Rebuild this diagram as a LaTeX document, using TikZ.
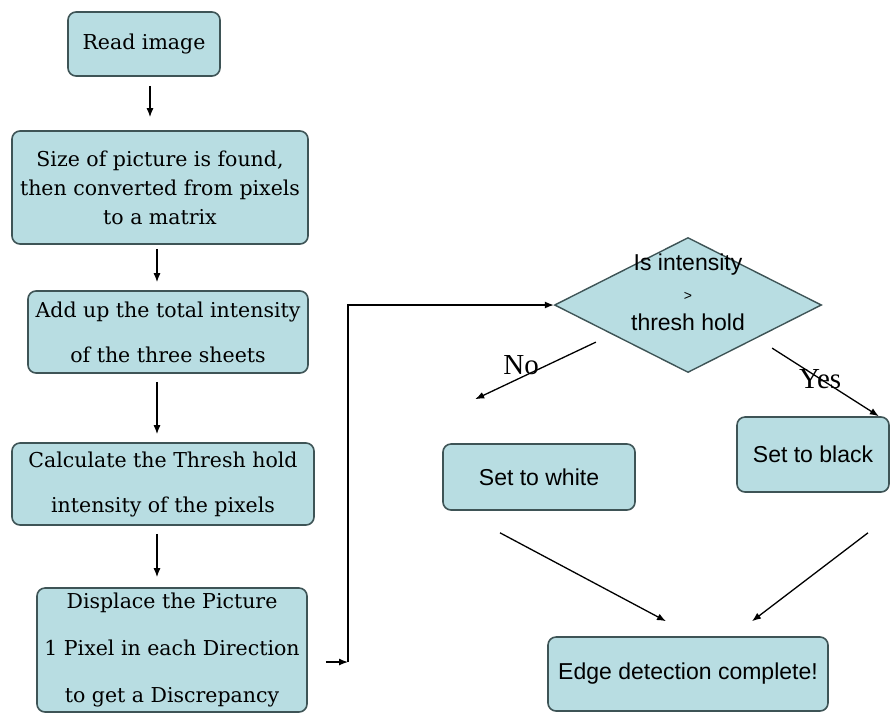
\documentclass[tikz,border=0pt]{standalone}
\usepackage{fontspec}
\setmainfont{DejaVu Serif}
\newfontfamily\arialfont{Liberation Sans}
\newfontfamily\timesfont{Liberation Serif}
\usetikzlibrary{arrows.meta,calc,shapes.geometric}
\definecolor{boxfill}{RGB}{184,221,226}
\definecolor{boxline}{RGB}{62,84,86}

\begin{document}
\begin{tikzpicture}[x=1pt,y=-1pt,
  unit/.style={draw=boxline,fill=boxfill,line width=1.6pt,rounded corners=8pt,align=center,inner sep=0pt,font=\fontsize{20.5}{45}\selectfont},
  sunit/.style={unit,font=\arialfont\fontsize{23}{30}\selectfont},
  test/.style={draw=boxline,fill=boxfill,line width=1.4pt,diamond,inner sep=0pt,minimum width=267pt,minimum height=135pt},
  link/.style={-{Latex[length=9pt,width=7pt]},line width=1.3pt},
  answer/.style={font=\timesfont\fontsize{29}{29}\selectfont,inner sep=0pt}]
\useasboundingbox (0,0) rectangle (890,713);
% left column
\node[unit,minimum width=152pt,minimum height=64pt] (R) at (144,44) {Read image};
\node[unit,minimum width=296pt,minimum height=113pt,font=\fontsize{20.5}{29}\selectfont] (S) at (160,187.5)
  {Size of picture is found,\\ then converted from pixels\\ to a matrix};
\node[unit,minimum width=280pt,minimum height=82pt] (A) at (168,332) {Add up the total intensity\\ of the three sheets};
\node[unit,minimum width=302pt,minimum height=82pt] (T) at (163,484) {Calculate the Thresh hold\\ intensity of the pixels};
\node[unit,minimum width=270pt,minimum height=124pt,font=\fontsize{20.5}{47}\selectfont] (D) at (172,650)
  {Displace the Picture\\ 1 Pixel in each Direction\\ to get a Discrepancy};
\draw[link] ([xshift=6pt,yshift=-9pt]R.south) -- ([xshift=-10pt,yshift=13pt]S.north);
\draw[link] ([xshift=-3pt,yshift=-4pt]S.south) -- ([xshift=-11pt,yshift=8pt]A.north);
\draw[link] ([xshift=-11pt,yshift=-8pt]A.south) -- ([xshift=-6pt,yshift=8pt]T.north);
\draw[link] ([xshift=-6pt,yshift=-8pt]T.south) -- ([xshift=-15pt,yshift=10pt]D.north);
% right part
\node[test,label={[sunit,draw=none,fill=none,yshift=13pt]center:Is intensity\\ {\fontsize{14}{30}\selectfont >}\\ thresh hold}] (Q) at (688,305) {};
\node[sunit,minimum width=192pt,minimum height=66pt] (W) at (539,477) {Set to white};
\node[sunit,minimum width=152pt,minimum height=75pt] (B) at (813,454.5) {Set to black};
\node[sunit,minimum width=280pt,minimum height=74pt] (E) at (688,674) {Edge detection complete!};
\coordinate (K) at (348,662);
\draw[link] ([xshift=18pt,yshift=-12pt]D.east) -- (K);
\draw[link] (K) |- (Q.west);
\draw[link] ([xshift=-25pt,yshift=-3pt]Q.south west) -- node[answer,pos=0.62,yshift=12pt]{No} ([xshift=33pt,yshift=44pt]W.north west);
\draw[link] ([xshift=17pt,yshift=-9pt]Q.south east) -- node[answer,pos=0.45]{Yes} ([xshift=-11pt]B.north east);
\draw[link] ([xshift=-39pt,yshift=-22pt]W.south) -- ([xshift=-22pt,yshift=15pt]E.north);
\draw[link] ([xshift=55pt,yshift=-40pt]B.south) -- ([xshift=64pt,yshift=15pt]E.north);
\end{tikzpicture}
\end{document}
